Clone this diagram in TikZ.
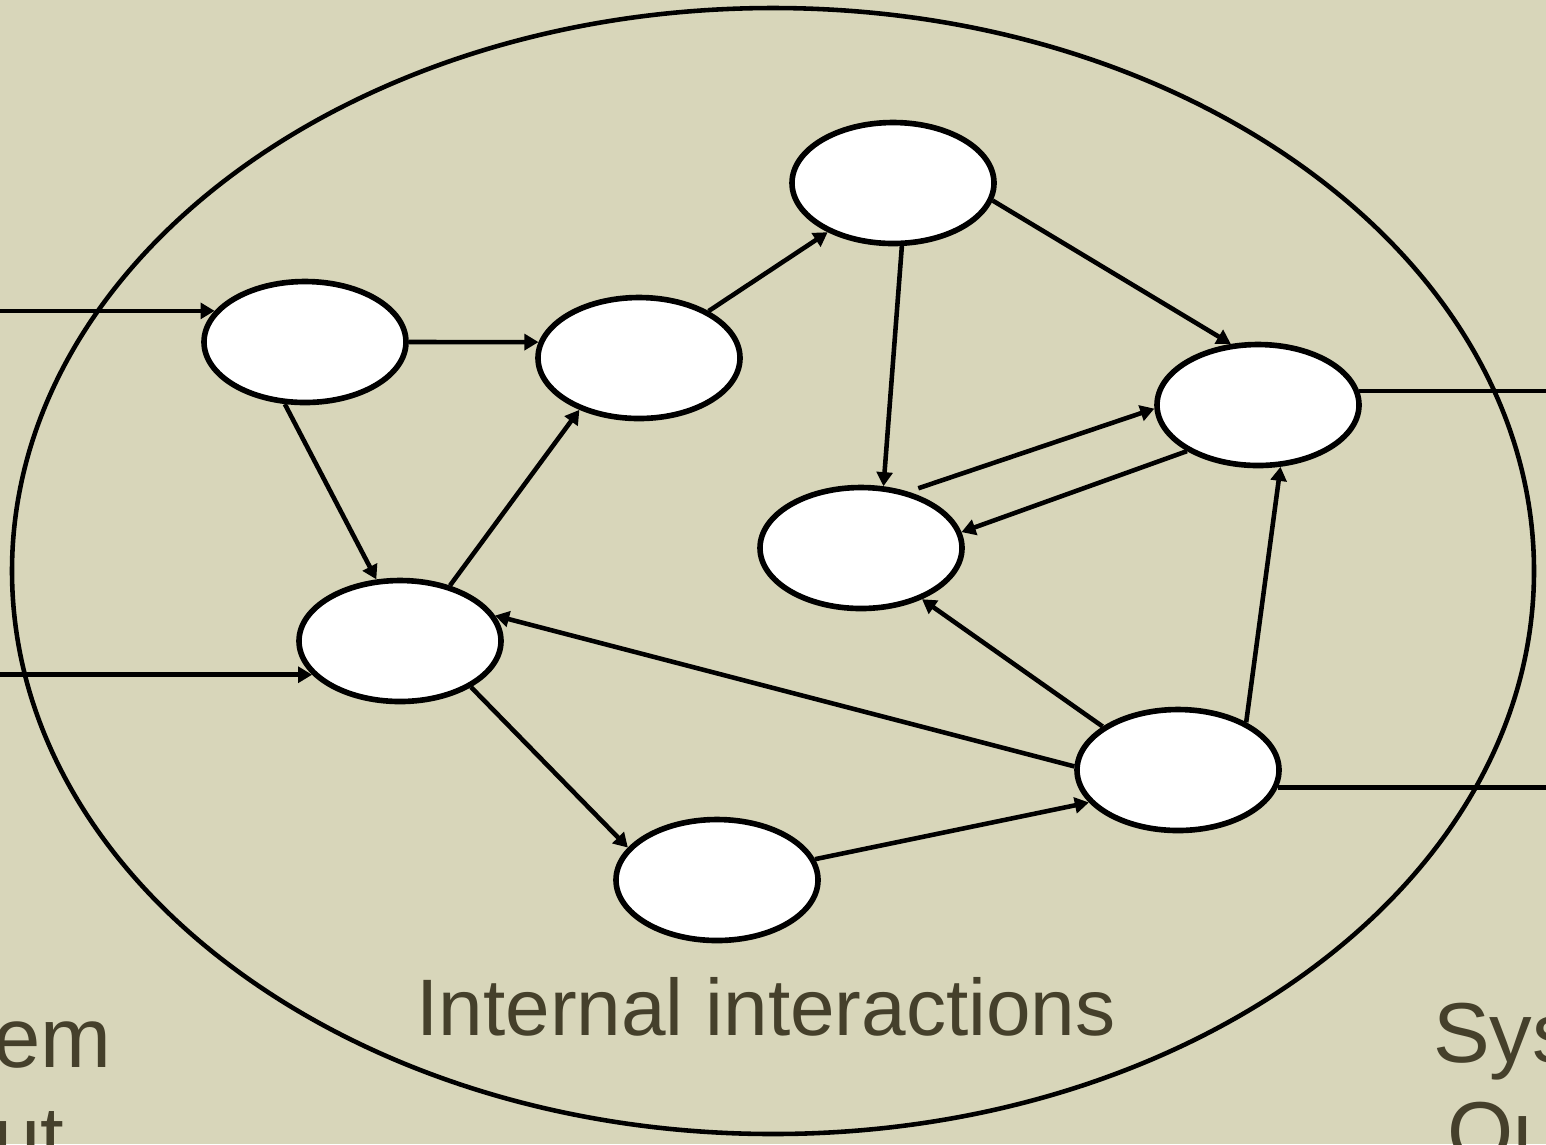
\documentclass[tikz,border=0pt]{standalone}
\usepackage{fontspec}
\setmainfont{Liberation Sans}
\usetikzlibrary{shapes.geometric,arrows.meta}
\definecolor{paper}{RGB}{216,214,186}
\definecolor{ink}{RGB}{69,64,43}
\tikzset{
  part/.style={draw, ellipse, fill=white, line width=1.6pt, minimum width=2.02cm, minimum height=1.21cm, inner sep=0pt},
  link/.style={line width=1.3pt, -{Triangle[length=4pt,width=4.5pt]}},
  wire/.style={line width=1.3pt},
  words/.style={text=ink, inner sep=0pt, font=\fontsize{24.2}{28.4}\selectfont}
}
\begin{document}
\begin{tikzpicture}[x=0.1mm, y=-0.1mm]
\useasboundingbox (0,0) rectangle (1546,1144);
\clip (0,0) rectangle (1546,1144);
\fill[paper] (0,0) rectangle (1546,1144);
\node[draw, ellipse, line width=1.3pt, minimum width=15.22cm, minimum height=11.26cm] (sys) at (773,571) {};
\node[part] (A) at (305,342) {};
\node[part] (B) at (639,358) {};
\node[part] (C) at (893,183) {};
\node[part] (D) at (1258,405) {};
\node[part] (E) at (861,548) {};
\node[part] (F) at (400,641) {};
\node[part] (G) at (1178,770) {};
\node[part] (H) at (717,880) {};
\coordinate (inA) at (0,311);
\coordinate (inF) at (0,676);
\coordinate (outD) at (1546,390);
\coordinate (outG) at (1546,787);
\draw[link] (inA |- A.161) -- (A.161);
\draw[link] (inF |- F.201) -- (F.201);
\foreach \a/\b in {A.0/B.171, A.252/F.111, F.48/B.221, B.34/C.217, C.278/E.70,
                   C.350/D.114, D.213/E.9, G.150/E.320, G.35/D.290,
                   G.178/F.15, F.327/H.160, H.12/G.200}
  \draw[link] (\a) -- (\b);
\draw[link, shorten <=3pt] (E.50) -- (D.182);
\draw[wire] (D.8) -- (D.8 -| outD);
\draw[wire] (G.350) -- (G.350 -| outG);
\node[words, anchor=base, font=\fontsize{22.8}{27}\selectfont] (inner) at (766,1035) {Internal interactions};
\node[words, anchor=north, align=center] (input) at (-30,1007) {System\\Input};
\node[words, anchor=north, align=center] (output) at (1575,1002) {System\\Output};
\end{tikzpicture}
\end{document}
